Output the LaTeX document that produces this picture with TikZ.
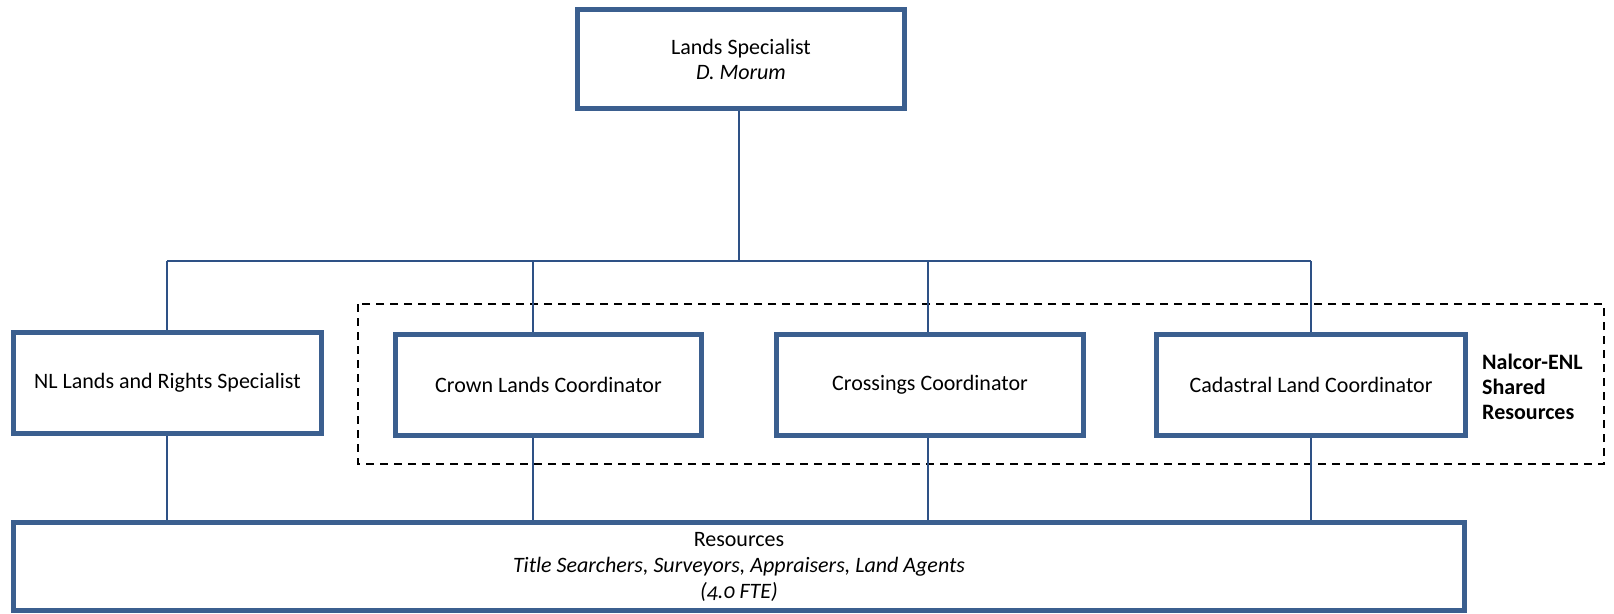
\documentclass[tikz,border=0pt]{standalone}
\usepackage{fontspec}
\setmainfont{Carlito}
\definecolor{boxblue}{HTML}{3B5F8F}
\definecolor{lineblue}{HTML}{2E5186}
\begin{document}
\begin{tikzpicture}[x=1pt,y=-1pt,
  orgbox/.style={draw=boxblue, line width=5pt, fill=white, inner sep=0pt, align=center,
    font=\fontsize{22}{25}\selectfont},
  link/.style={draw=lineblue, line width=2pt},
  sharedframe/.style={draw=black, line width=2.5pt, dash pattern=on 8pt off 6pt},
  sidelabel/.style={anchor=base west, inner sep=0pt, font=\bfseries\fontsize{22}{25}\selectfont}]
\useasboundingbox (0,0) rectangle (1614,613);

% shared resources frame
\draw[sharedframe] (358,304) rectangle (1604,464);

% bus coordinates
\coordinate (b0) at (739,261);
\coordinate (b1) at (167,261);
\coordinate (b2) at (533,261);
\coordinate (b3) at (928,261);
\coordinate (b4) at (1311,261);

% boxes
\node[orgbox, minimum width=327pt, minimum height=99pt] (top) at (741,59)
  {Lands Specialist\\\textit{D. Morum}};
\node[orgbox, minimum width=308pt, minimum height=101pt] (nl) at (167.5,383)
  {NL Lands and Rights Specialist};
\node[orgbox, minimum width=306pt, minimum height=101pt] (crown) at (548.5,385)
  {Crown Lands Coordinator};
\node[orgbox, minimum width=307pt, minimum height=101pt] (cross) at (930,385)
  {Crossings Coordinator};
\node[orgbox, minimum width=309pt, minimum height=101pt] (cad) at (1311,385)
  {Cadastral Land Coordinator};
\node[orgbox, minimum width=1451pt, minimum height=88pt, font=\fontsize{22}{26}\selectfont] (res) at (739,566.5)
  {Resources\\\textit{Title Searchers, Surveyors, Appraisers, Land Agents}\\{\addfontfeatures{Numbers=OldStyle}\textit{(4.0 FTE)}}};

% side label
\node[sidelabel] (s1) at (1482,369) {Nalcor-ENL};
\node[sidelabel] (s2) at (1482,394) {Shared};
\node[sidelabel] (s3) at (1482,419) {Resources};

% connectors
\draw[link] (b0 |- top.south) -- (b0);
\draw[link] (b1) -- (b4);
\draw[link] (b1) -- (b1 |- nl.north);
\draw[link] (b2) -- (b2 |- crown.north);
\draw[link] (b3) -- (b3 |- cross.north);
\draw[link] (b4) -- (b4 |- cad.north);
\draw[link] (b1 |- nl.south) -- (b1 |- res.north);
\draw[link] (b2 |- crown.south) -- (b2 |- res.north);
\draw[link] (b3 |- cross.south) -- (b3 |- res.north);
\draw[link] (b4 |- cad.south) -- (b4 |- res.north);
\end{tikzpicture}
\end{document}
